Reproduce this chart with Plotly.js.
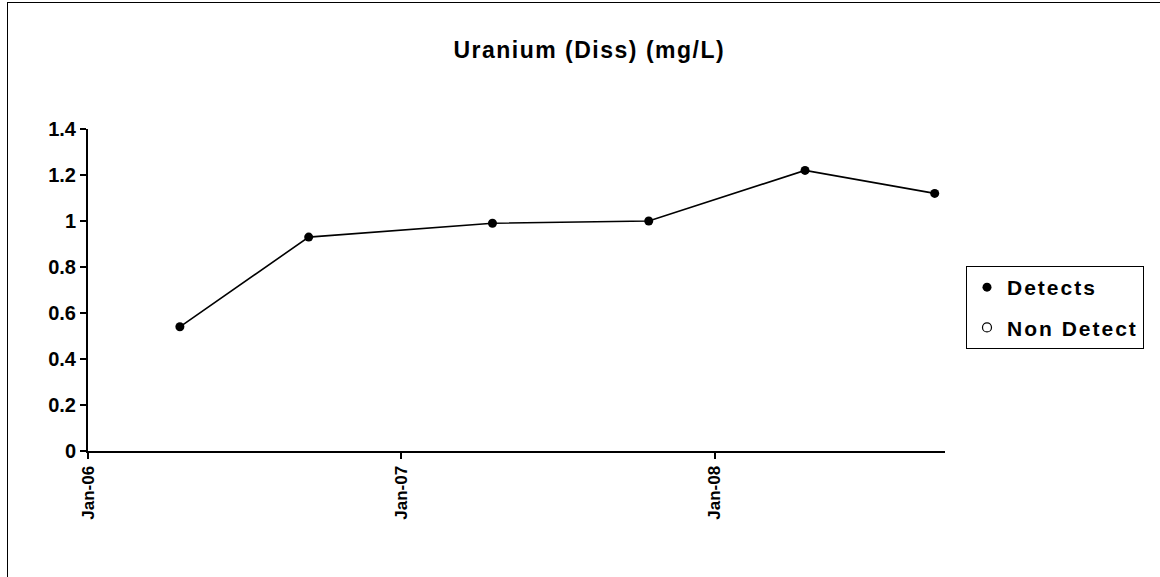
<!DOCTYPE html>
<html>
<head>
<meta charset="utf-8">
<script src="https://cdn.plot.ly/plotly-3.0.1.min.js"></script>
<style>
html,body{margin:0;padding:0;background:#fff;}
#wrap{position:relative;width:1160px;height:577px;}
#chart{position:absolute;left:0;top:0;width:1160px;height:577px;}
#frame{position:absolute;left:7px;top:2px;width:1160px;height:580px;border-left:1px solid #000;border-top:1px solid #000;pointer-events:none;}
.legendtext{letter-spacing:2px;}
.gtitle{letter-spacing:1.5px;}
</style>
</head>
<body>
<div id="wrap"><div id="chart"></div><div id="frame"></div></div>
<script>
const sampleDates = ['2006-04-18','2006-09-15','2007-04-17','2007-10-16','2008-04-15','2008-09-13'];
const uraniumValues = [0.54, 0.93, 0.99, 1.00, 1.22, 1.12];
const nonDetectDates = [null];
const nonDetectValues = [null];
const yTickValues = [0, 0.2, 0.4, 0.6, 0.8, 1, 1.2, 1.4];
const yTickLabels = ['0', '0.2', '0.4', '0.6', '0.8', '1', '1.2', '1.4'];
const xTickValues = ['2006-01-01', '2007-01-01', '2008-01-01'];
const xTickLabels = ['Jan-06', 'Jan-07', 'Jan-08'];

const font = {family: 'Liberation Sans, Arial, sans-serif', color: '#000'};

const traces = [
  {x: sampleDates, y: uraniumValues, type: 'scatter', mode: 'lines',
   line: {color: '#000', width: 1.6}, showlegend: false, hoverinfo: 'skip'},
  {x: sampleDates, y: uraniumValues, type: 'scatter', mode: 'markers', name: '<b>Detects</b>',
   legendgroup: 'a', marker: {color: '#000', size: 9, symbol: 'circle'}},
  {x: nonDetectDates, y: nonDetectValues, type: 'scatter', mode: 'markers', name: '<b>Non Detect</b>',
   legendgroup: 'b', marker: {color: '#fff', size: 9, symbol: 'circle', line: {color: '#000', width: 1.2}}}
];

const layout = {
  width: 1160, height: 577,
  margin: {l: 88, r: 215, t: 129, b: 126},
  paper_bgcolor: '#fff', plot_bgcolor: '#fff',
  font: Object.assign({size: 14}, font),
  title: {text: '<b>Uranium (Diss) (mg/L)</b>', font: Object.assign({size: 23}, font),
          x: 0.508, xref: 'container', xanchor: 'center', y: 0.913, yref: 'container', yanchor: 'middle'},
  xaxis: {type: 'date', range: ['2006-01-01', '2008-09-25'],
          tickvals: xTickValues, ticktext: xTickLabels.map(t => '<b>' + t + '</b>'),
          tickangle: -90, ticks: 'outside', ticklen: 6, tickwidth: 2, tickcolor: '#000',
          showline: true, linecolor: '#000', linewidth: 2, showgrid: false, zeroline: false,
          tickfont: Object.assign({size: 17}, font)},
  yaxis: {range: [0, 1.4], tickvals: yTickValues, ticktext: yTickLabels.map(t => '<b>' + t + '</b>'),
          ticks: 'outside', ticklen: 6, tickwidth: 2, tickcolor: '#000',
          showline: true, linecolor: '#000', linewidth: 2, showgrid: false, zeroline: false,
          tickfont: Object.assign({size: 20}, font)},
  showlegend: true,
  legend: {x: 1.0245, xanchor: 'left', y: 0.5745, yanchor: 'top',
           bordercolor: '#000', borderwidth: 1, bgcolor: '#fff',
           tracegroupgap: 10, itemwidth: 30,
           font: Object.assign({size: 21}, font)}
};

Plotly.newPlot('chart', traces, layout, {displayModeBar: false, staticPlot: true});
</script>
</body>
</html>
